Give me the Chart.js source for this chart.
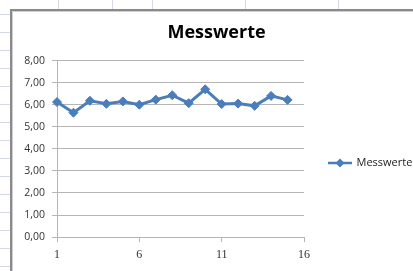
<!DOCTYPE html>
<html><head><meta charset="utf-8">
<script src="https://cdn.jsdelivr.net/npm/chart.js@4"></script>
<style>html,body{margin:0;padding:0;background:#fff;overflow:hidden}#wrap{width:413px;height:271px;position:relative}</style>
</head><body><div id="wrap"><canvas id="c" width="413" height="271"></canvas></div>
<script>
const chartTitle = 'Messwerte';
const seriesName = 'Messwerte';
const categories = [1, 2, 3, 4, 5, 6, 7, 8, 9, 10, 11, 12, 13, 14, 15];
const values = [6.12, 5.64, 6.18, 6.04, 6.15, 6.00, 6.23, 6.43, 6.07, 6.70, 6.03, 6.05, 5.95, 6.40, 6.22];
const xTicks = [1, 6, 11, 16];
const yTicks = [0, 1, 2, 3, 4, 5, 6, 7, 8];

const lineColor = '#4a7ebb';
const gridColor = '#b5b5b5';

// legend symbol: line with diamond marker
const sym = document.createElement('canvas');
sym.width = 24; sym.height = 10;
(function () {
  const g = sym.getContext('2d');
  g.strokeStyle = lineColor; g.lineWidth = 2.5;
  g.beginPath(); g.moveTo(0, 5); g.lineTo(24, 5); g.stroke();
  g.fillStyle = lineColor;
  g.beginPath(); g.moveTo(12, 0.5); g.lineTo(16.5, 5); g.lineTo(12, 9.5); g.lineTo(7.5, 5); g.closePath(); g.fill();
})();

const sheetBg = {
  id: 'sheetBg',
  beforeDraw(chart) {
    const ctx = chart.ctx, W = chart.width, H = chart.height;
    ctx.save();
    ctx.fillStyle = '#fff'; ctx.fillRect(0, 0, W, H);
    ctx.strokeStyle = '#d3dae6'; ctx.lineWidth = 1;
    ctx.beginPath();
    for (let y = 14; y < H; y += 18) { ctx.moveTo(0, y + 0.5); ctx.lineTo(10, y + 0.5); }
    [58, 112, 152, 245, 338].forEach(x => { ctx.moveTo(x + 0.5, 0); ctx.lineTo(x + 0.5, 10); });
    ctx.stroke();
    ctx.fillStyle = '#fff'; ctx.fillRect(10, 9, W, H);
    ctx.strokeStyle = '#8a8a8a'; ctx.lineWidth = 2;
    ctx.beginPath(); ctx.moveTo(11, H); ctx.lineTo(11, 10); ctx.lineTo(W, 10); ctx.stroke();
    ctx.strokeStyle = '#cfcfcf'; ctx.lineWidth = 1;
    ctx.beginPath(); ctx.moveTo(12.5, H); ctx.lineTo(12.5, 11.5); ctx.lineTo(W, 11.5); ctx.stroke();
    ctx.restore();
  }
};

function build() {
  new Chart(document.getElementById('c'), {
    type: 'line',
    data: {
      datasets: [{
        label: seriesName,
        data: categories.map((c, i) => ({ x: c, y: values[i] })),
        borderColor: lineColor,
        backgroundColor: lineColor,
        borderWidth: 3,
        pointStyle: 'rectRot',
        pointRadius: 4.5,
        pointBackgroundColor: lineColor,
        pointBorderColor: lineColor,
        pointBorderWidth: 1,
        tension: 0,
        clip: false
      }]
    },
    options: {
      responsive: false,
      animation: false,
      devicePixelRatio: 1,
      layout: { padding: { left: 21, right: 1, top: 0, bottom: 2.5 } },
      plugins: {
        title: {
          display: true, text: chartTitle, color: '#000',
          font: { family: 'Open Sans', size: 18, weight: 'bold', lineHeight: 1.2 },
          padding: { top: 22, bottom: 17 }
        },
        legend: {
          position: 'right',
          maxWidth: 108,
          title: { display: true, text: ' ', font: { size: 10, lineHeight: 1 }, padding: { top: 47.5, bottom: 0 } },
          labels: {
            usePointStyle: true, pointStyleWidth: 22, padding: 25,
            font: { family: 'Open Sans', size: 11 }, color: '#222',
            generateLabels(chart) {
              const items = Chart.defaults.plugins.legend.labels.generateLabels(chart);
              items.forEach(it => { it.pointStyle = sym; });
              return items;
            }
          }
        },
        tooltip: { enabled: false }
      },
      scales: {
        x: {
          type: 'linear', min: 1, max: 16,
          afterBuildTicks(s) { s.ticks = xTicks.map(v => ({ value: v })); },
          grid: { drawOnChartArea: false, drawTicks: true, tickLength: 5, color: gridColor },
          border: { display: true, color: gridColor },
          ticks: { font: { family: 'Liberation Serif', size: 12 }, color: '#333', padding: 6, maxRotation: 0, autoSkip: false }
        },
        y: {
          min: 0, max: 8,
          afterBuildTicks(s) { s.ticks = yTicks.map(v => ({ value: v })); },
          afterFit(s) { s.width = 36; },
          grid: { color: gridColor, tickLength: 5 },
          border: { display: true, color: gridColor },
          ticks: { font: { family: 'Open Sans', size: 10.5 }, color: '#333', padding: 7,
            callback: v => v.toFixed(2).replace('.', ',') }
        }
      }
    },
    plugins: [sheetBg]
  });
}

Promise.all([
  document.fonts.load('bold 18px "Open Sans"'),
  document.fonts.load('11px "Open Sans"'),
  document.fonts.load('12px "Liberation Serif"')
]).then(build, build);
</script></body></html>
